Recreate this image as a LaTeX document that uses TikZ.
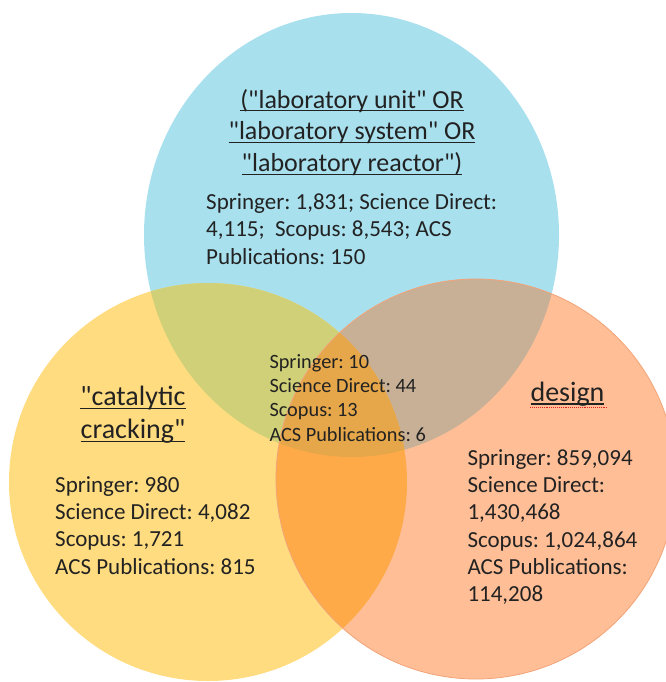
\documentclass[tikz,border=0pt]{standalone}
\usepackage{fontspec}
\setmainfont{Carlito}
\newfontfamily\bodyfont{Carlito}
\frenchspacing

\definecolor{labblue}{HTML}{A8E0EE}
\definecolor{catyellow}{HTML}{FFDC80}
\definecolor{desorange}{HTML}{FFBE96}
\definecolor{blueyellow}{HTML}{D0D078}
\definecolor{blueorange}{HTML}{C8B096}
\definecolor{yelloworange}{HTML}{FFAA48}
\definecolor{allthree}{HTML}{E5A74A}
\definecolor{orangeedge}{HTML}{F2A478}
\definecolor{spellred}{HTML}{E02020}
\definecolor{txt}{HTML}{222222}

% word-style underline at a fixed depth
\newcommand{\uword}[1]{\setbox0=\hbox{#1}\rlap{\rule[-0.13em]{\wd0}{0.05em}}\box0}

\begin{document}
\begin{tikzpicture}[x=1pt,y=-1pt,
  title/.style={text=txt, inner sep=0pt, align=center, font=\bodyfont\fontsize{28}{32.5}\selectfont},
  counts/.style={text=txt, inner sep=0pt, align=left, font=\bodyfont\fontsize{23}{27.3}\selectfont}]
\useasboundingbox (0,0) rectangle (665,682);
% the three sets
\fill[labblue] (351.5,235) ellipse (207.5 and 222);
\fill[catyellow] (208,482) circle (199);
\fill[desorange] (476,479) circle (200);
% overlaps
\begin{scope}
\clip (351.5,235) ellipse (207.5 and 222);
\fill[blueyellow] (208,482) circle (199);
\fill[blueorange] (476,479) circle (200);
\end{scope}
\begin{scope}
\clip (208,482) circle (199);
\fill[yelloworange] (476,479) circle (200);
\end{scope}
\begin{scope}
\clip (351.5,235) ellipse (207.5 and 222);
\clip (208,482) circle (199);
\fill[allthree] (476,479) circle (200);
\end{scope}
\draw[orangeedge, line width=0.8pt] (476,479) circle (200);

% labels (anchored on the baseline of the last line)
\node[title, font=\bodyfont\fontsize{26}{31.8}\selectfont, anchor=base] (labtitle) at (352,171.7)
  {\uword{("laboratory unit" OR}\\\uword{"laboratory system" OR}\\\uword{"laboratory reactor")}};
\node[counts, anchor=base west] (labcounts) at (206,264)
  {Springer: 1,831; Science Direct:\\4,115;\ \ Scopus: 8,543; ACS\\Publications: 150};
\node[title, anchor=base] (cattitle) at (133,438.3) {\uword{"catalytic}\\\uword{cracking"}};
\node[counts, anchor=base west] (catcounts) at (55,574)
  {Springer: 980\\Science Direct: 4,082\\Scopus: 1,721\\ACS Publications: 815};
\node[title, anchor=base] (destitle) at (567.5,401) {\uword{design}};
\draw[spellred, densely dotted, line width=0.9pt] ([yshift=-6.3pt]destitle.base west) -- ([xshift=3pt,yshift=-6.3pt]destitle.base east);
\node[counts, anchor=base west] (descounts) at (467.3,601.7)
  {Springer: 859,094\\Science Direct:\\1,430,468\\Scopus: 1,024,864\\ACS Publications:\\114,208};
\node[counts, font=\bodyfont\fontsize{20.3}{24.2}\selectfont, anchor=base west] (commoncounts) at (269.3,441)
  {Springer: 10\\Science Direct: 44\\Scopus: 13\\ACS Publications: 6};
\end{tikzpicture}
\end{document}
